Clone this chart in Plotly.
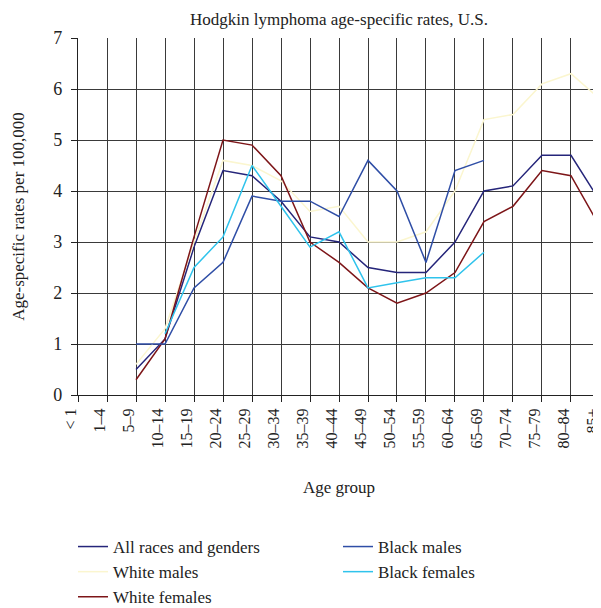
import plotly.graph_objects as go

age_groups = ["< 1", "1–4", "5–9", "10–14", "15–19", "20–24", "25–29", "30–34", "35–39",
              "40–44", "45–49", "50–54", "55–59", "60–64", "65–69", "70–74", "75–79",
              "80–84", "85+"]

all_races = [None, None, 0.5, 1.1, 2.9, 4.4, 4.3, 3.8, 3.1, 3.0, 2.5, 2.4, 2.4, 3.0, 4.0, 4.1, 4.7, 4.7, 3.8]
white_males = [None, None, 0.6, 1.3, 3.0, 4.6, 4.5, 4.2, 3.6, 3.7, 3.0, 3.0, 3.2, 4.0, 5.4, 5.5, 6.1, 6.3, 5.8]
white_females = [None, None, 0.3, 1.1, 3.1, 5.0, 4.9, 4.3, 3.0, 2.6, 2.1, 1.8, 2.0, 2.4, 3.4, 3.7, 4.4, 4.3, 3.3]
black_males = [None, None, 1.0, 1.0, 2.1, 2.6, 3.9, 3.8, 3.8, 3.5, 4.6, 4.0, 2.6, 4.4, 4.6, None, None, None, None]
black_females = [None, None, None, 1.2, 2.5, 3.1, 4.5, 3.7, 2.9, 3.2, 2.1, 2.2, 2.3, 2.3, 2.8, None, None, None, None]

FONT = "Liberation Serif"

series = [
    ("All races and genders", all_races, "#25257a", "legend"),
    ("White males", white_males, "#fbf6cf", "legend"),
    ("White females", white_females, "#7d1518", "legend"),
    ("Black males", black_males, "#2f4ea6", "legend2"),
    ("Black females", black_females, "#2fc3ec", "legend2"),
]

fig = go.Figure()
for name, vals, color, leg in series:
    fig.add_trace(go.Scatter(
        x=age_groups, y=vals, mode="lines", name=name,
        line=dict(color=color, width=1.5), legend=leg,
    ))

T, B, L, R = 30, 221, 70, 9
PLOT_H = 608 - T - B
PLOT_W = 601 - L - R
legend_style = dict(
    font=dict(family=FONT, size=17, color="#222"),
    bgcolor="rgba(0,0,0,0)", orientation="v",
    xref="paper", yref="paper", xanchor="left", yanchor="top",
    itemwidth=30, tracegroupgap=0,
)

fig.update_layout(
    width=601, height=608,
    margin=dict(l=L, r=R, t=T, b=B, autoexpand=False),
    paper_bgcolor="white", plot_bgcolor="white",
    font=dict(family=FONT, size=17, color="#222"),
    title=dict(text="Hodgkin lymphoma age-specific rates, U.S.", x=0.5, xref="paper",
               y=1 - 11 / 608, yanchor="middle", font=dict(family=FONT, size=17, color="#222")),
    xaxis=dict(
        type="category", categoryorder="array", categoryarray=age_groups,
        range=[-0.001, 18.001], tickangle=-90,
        showgrid=True, gridcolor="#3a3a3a", gridwidth=1.3,
        showline=True, linecolor="#222", linewidth=1.3,
        ticks="outside", ticklen=6, tickcolor="#222",
        ticklabeloverflow="allow", ticklabelshift=-7,
        title=dict(text="Age group", standoff=33, font=dict(family=FONT, size=17)),
        tickfont=dict(family=FONT, size=16),
    ),
    yaxis=dict(
        range=[0, 7], dtick=1,
        showgrid=True, gridcolor="#3a3a3a", gridwidth=1.3,
        showline=True, linecolor="#222", linewidth=1.3,
        ticks="outside", ticklen=6, tickcolor="#222",
        ticklabelstandoff=5,
        zeroline=False,
        title=dict(text="Age-specific rates per 100,000", standoff=24, font=dict(family=FONT, size=17)),
        tickfont=dict(family=FONT, size=18),
    ),
    legend=dict(x=(65 - L) / PLOT_W, y=-134 / PLOT_H, **legend_style),
    legend2=dict(x=(330 - L) / PLOT_W, y=-134 / PLOT_H, **legend_style),
)

fig.write_html("out.html")
